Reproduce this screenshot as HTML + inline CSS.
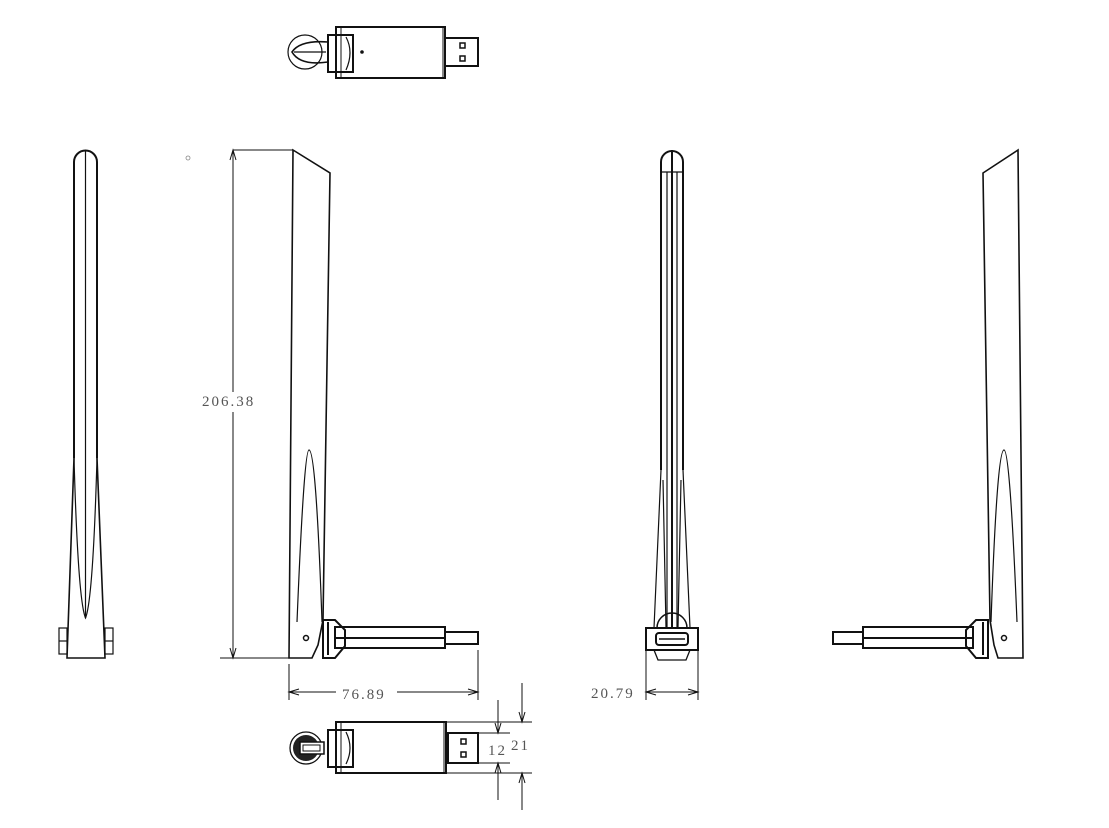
<!DOCTYPE html>
<html><head><meta charset="utf-8"><style>
html,body{margin:0;padding:0;background:#fff;}
svg{display:block}
text{font-family:"Liberation Serif",serif;fill:#555;font-size:15px;letter-spacing:2px}
</style></head><body>
<svg width="1109" height="828" viewBox="0 0 1109 828" xmlns="http://www.w3.org/2000/svg">
<g fill="none" stroke="#111" stroke-width="1.6">
<!-- top view -->
<g stroke-width="2">
<rect x="336" y="27" width="109" height="51"/>
<line x1="341" y1="27" x2="341" y2="78" stroke-width="1"/>
<line x1="443" y1="27" x2="443" y2="78" stroke-width="1"/>
<rect x="328" y="35" width="25" height="37"/>
<rect x="445" y="38" width="33" height="28"/>
<circle cx="305" cy="52" r="17" stroke-width="1.2"/>
<path d="M292 52 Q300 40 328 42 L328 62 Q300 66 292 52Z" stroke-width="1.6"/>
<line x1="294" y1="52" x2="326" y2="52" stroke-width="1.2"/>
<path d="M346 37 Q354 52 346 70" stroke-width="1.2"/>
</g>
<rect x="460" y="43" width="5" height="5" stroke-width="1.5"/>
<rect x="460" y="56" width="5" height="5" stroke-width="1.5"/>
<circle cx="362" cy="52" r="1" fill="#111"/>

<!-- left view -->
<path d="M74 458 L74 162 A11.5 11.5 0 0 1 97 162 L97 458" stroke-width="2"/>
<line x1="85.5" y1="150" x2="85.5" y2="618" stroke-width="1.2"/>
<path d="M74 458 L67 658 L105 658 L97 458"/>
<path d="M74 458 Q78 600 85.5 618 Q93 600 97 458" stroke-width="1.2"/>
<rect x="59" y="628" width="8" height="26" stroke-width="1.2"/>
<line x1="59" y1="641" x2="67" y2="641" stroke-width="1.2"/>
<rect x="105" y="628" width="8" height="26" stroke-width="1.2"/>
<line x1="105" y1="641" x2="113" y2="641" stroke-width="1.2"/>

<!-- second view -->
<path d="M293 150 L330 173 L323 620 L318 645 L312 658 L289 658 Z"/>
<path d="M297 622 Q304 450 309 450 Q316 450 322 622" stroke-width="1.2"/>
<circle cx="306" cy="638" r="2.5" stroke-width="1.5"/>
<g stroke-width="2">
<path d="M323 620 L335 620 L345 630 L345 646 L335 658 L323 658 Z"/>
<rect x="335" y="627" width="110" height="21"/>
<line x1="335" y1="638" x2="445" y2="638"/>
<rect x="445" y="632" width="33" height="12"/>
<line x1="328" y1="622" x2="328" y2="655"/>
</g>

<!-- vertical dim -->
<g stroke-width="1">
<line x1="233" y1="150" x2="293" y2="150"/>
<line x1="220" y1="658" x2="289" y2="658"/>
<line x1="233" y1="150" x2="233" y2="392"/>
<line x1="233" y1="412" x2="233" y2="658"/>
<path d="M230 160 L233 150 L236 160"/>
<path d="M230 648 L233 658 L236 648"/>
<line x1="289" y1="664" x2="289" y2="700"/>
<line x1="478" y1="650" x2="478" y2="700"/>
<line x1="289" y1="692" x2="336" y2="692"/>
<line x1="397" y1="692" x2="478" y2="692"/>
<path d="M299 689 L289 692 L299 695"/>
<path d="M468 689 L478 692 L468 695"/>
</g>
<circle cx="188" cy="158" r="2" stroke-width="0.8" stroke="#888"/>

<!-- bottom view -->
<g stroke-width="2">
<rect x="336" y="722" width="110" height="51"/>
<line x1="341" y1="722" x2="341" y2="773" stroke-width="1"/>
<line x1="444" y1="722" x2="444" y2="773" stroke-width="1"/>
<rect x="328" y="730" width="25" height="37"/>
<rect x="448" y="733" width="30" height="30"/>
<circle cx="306" cy="748" r="16" stroke-width="1.3"/>
<path d="M346 732 Q354 748 346 764" stroke-width="1.2"/>
</g>
<circle cx="306" cy="748" r="13" fill="#222" stroke="none"/>
<rect x="300" y="742" width="24" height="12" fill="#fff" stroke-width="1.5"/>
<rect x="303" y="745" width="17" height="6" fill="none" stroke-width="1"/>
<rect x="461" y="739" width="5" height="5" stroke-width="1.5"/>
<rect x="461" y="752" width="5" height="5" stroke-width="1.5"/>
<g stroke-width="1">
<line x1="447" y1="722" x2="532" y2="722"/>
<line x1="447" y1="773" x2="532" y2="773"/>
<line x1="478" y1="733" x2="510" y2="733"/>
<line x1="478" y1="763" x2="510" y2="763"/>
<line x1="498" y1="700" x2="498" y2="733"/>
<line x1="498" y1="763" x2="498" y2="800"/>
<line x1="522" y1="683" x2="522" y2="722"/>
<line x1="522" y1="773" x2="522" y2="810"/>
<path d="M495 723 L498 733 L501 723"/>
<path d="M495 773 L498 763 L501 773"/>
<path d="M519 712 L522 722 L525 712"/>
<path d="M519 783 L522 773 L525 783"/>
</g>

<!-- front view -->
<path d="M661 470 L661 162 A11 11 0 0 1 683 162 L683 470" stroke-width="2"/>
<line x1="661" y1="172" x2="683" y2="172" stroke-width="1.2"/>
<line x1="672" y1="150" x2="672" y2="628" stroke-width="2"/>
<line x1="667" y1="172" x2="667" y2="628" stroke-width="1.2"/>
<line x1="677" y1="172" x2="677" y2="628" stroke-width="1.2"/>
<path d="M661 470 L654 628 M683 470 L690 628" stroke-width="1.2"/>
<path d="M663 480 L666 628 M681 480 L678 628" stroke-width="1.2"/>
<path d="M657 628 A15 15 0 0 1 687 628" stroke-width="1.5"/>
<rect x="646" y="628" width="52" height="22" stroke-width="2"/>
<rect x="656" y="633" width="32" height="12" rx="3" stroke-width="2"/>
<line x1="659" y1="639" x2="685" y2="639" stroke-width="1.5"/>
<path d="M654 650 L658 660 L686 660 L690 650" stroke-width="1.3"/>
<g stroke-width="1">
<line x1="646" y1="650" x2="646" y2="700"/>
<line x1="698" y1="650" x2="698" y2="700"/>
<line x1="646" y1="692" x2="698" y2="692"/>
<path d="M656 689 L646 692 L656 695"/>
<path d="M688 689 L698 692 L688 695"/>
</g>

<!-- fourth view -->
<path d="M1018 150 L983 173 L990 620 L994 645 L998 658 L1023 658 Z"/>
<path d="M991 622 Q997 450 1004 450 Q1010 450 1017 622" stroke-width="1.2"/>
<circle cx="1004" cy="638" r="2.5" stroke-width="1.5"/>
<g stroke-width="2">
<path d="M988 620 L976 620 L966 630 L966 646 L976 658 L988 658 Z"/>
<rect x="863" y="627" width="110" height="21"/>
<line x1="863" y1="638" x2="973" y2="638"/>
<rect x="833" y="632" width="30" height="12"/>
<line x1="983" y1="622" x2="983" y2="655"/>
</g>
</g>
<text x="202" y="406">206.38</text>
<text x="342" y="699">76.89</text>
<text x="591" y="698">20.79</text>
<text x="488" y="755">12</text>
<text x="511" y="750">21</text>
</svg>
</body></html>
